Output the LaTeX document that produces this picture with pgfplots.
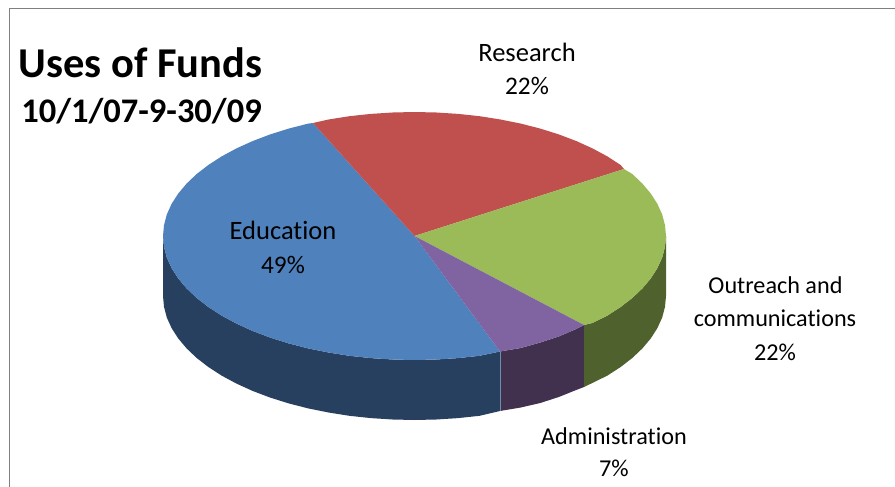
\documentclass[border=0pt]{standalone}
\usepackage{fontspec}
\setmainfont[Ligatures={NoCommon,TeX},RawFeature={-liga;-clig;-dlig}]{Carlito}
\usepackage{pgfplots}
\pgfplotsset{compat=1.18}
\definecolor{eduTop}{HTML}{4F81BD}
\definecolor{resTop}{HTML}{C0504D}
\definecolor{outTop}{HTML}{9BBB59}
\definecolor{admTop}{HTML}{8064A2}
\definecolor{eduSide}{HTML}{28405F}
\definecolor{outSide}{HTML}{4F612D}
\definecolor{admSide}{HTML}{41314F}
\begin{document}
\begin{tikzpicture}
\begin{axis}[
  scale only axis, width=895pt, height=487pt,
  xmin=0, xmax=895, ymin=0, ymax=487, y dir=reverse,
  hide axis, clip=true,
  every axis plot/.append style={line join=round},
]
% page background
\addplot[fill=white, draw=none] coordinates {(0,0) (895,0) (895,487) (0,487)} \closedcycle;
% chart frame, left and top edges
\addplot[color=black!50, line width=1pt] coordinates {(9.5,487) (9.5,9) (895,9)};

% rim of the disc, lower half
\addplot[fill=eduSide, draw=none] coordinates {
 (163,236) (164,246.8) (166.8,257.5) (171.6,268.1) (178.2,278.4) (186.6,288.4) (196.7,298) (208.5,307.1) (221.8,315.7) (236.7,323.7) (252.8,331) (270.2,337.6) (288.7,343.4) (308.2,348.4) (328.5,352.5) (349.4,355.8) (370.8,358.1) (392.6,359.5) (414.5,360) (436.4,359.5) (458.2,358.1) (479.6,355.8) (500,351.5)
 (500,411) (479.6,415.8) (458.2,418.1) (436.4,419.5) (414.5,420) (392.6,419.5) (370.8,418.1) (349.4,415.8) (328.5,412.5) (308.2,408.4) (288.7,403.4) (270.2,397.6) (252.8,391) (236.7,383.7) (221.8,375.7) (208.5,367.1) (196.7,358) (186.6,348.4) (178.2,338.4) (171.6,328.1) (166.8,317.5) (164,306.8) (163,296)
} -- cycle;
\addplot[fill=admSide, draw=none] coordinates {
 (500,351.5) (520.8,348) (540.3,342.5) (558.8,336.5) (576.2,329) (584,325)
 (584,387) (576.2,390) (558.8,397) (540.3,403) (520.8,407.5) (500,411)
} -- cycle;
\addplot[fill=outSide, draw=none] coordinates {
 (584,325) (592.3,323) (607.2,315.7) (620.5,307.1) (632.3,298) (642.4,288.4) (650.8,278.4) (657.4,268.1) (662.2,257.5) (665,246.8) (666,236)
 (666,296) (665,306.8) (662.2,317.5) (657.4,328.1) (650.8,338.4) (642.4,348.4) (632.3,358) (620.5,367.1) (607.2,375.7) (592.3,383) (584,387)
} -- cycle;
% seam between the two lower rim sections
\addplot[color=black!30!eduTop!70!white, line width=0.5pt] coordinates {(500,351.5) (500,411)};

% top face of the disc
\addplot[fill=eduTop, draw=none] coordinates {
 (414.5,236) (313,123) (308.2,123.6) (288.7,128.6) (270.2,134.4) (252.8,141) (236.7,148.3) (221.8,156.3) (208.5,164.9) (196.7,174) (186.6,183.6) (178.2,193.6) (171.6,203.9) (166.8,214.5) (164,225.2) (163,236) (164,246.8) (166.8,257.5) (171.6,268.1) (178.2,278.4) (186.6,288.4) (196.7,298) (208.5,307.1) (221.8,315.7) (236.7,323.7) (252.8,331) (270.2,337.6) (288.7,343.4) (308.2,348.4) (328.5,352.5) (349.4,355.8) (370.8,358.1) (392.6,359.5) (414.5,360) (436.4,359.5) (458.2,358.1) (479.6,355.8) (500,351.5)
} -- cycle;
\addplot[fill=resTop, draw=none] coordinates {
 (414.5,236) (624,169) (620.5,164.9) (607.2,156.3) (592.3,148.3) (576.2,141) (558.8,134.4) (540.3,128.6) (520.8,123.6) (500.5,119.5) (479.6,116.2) (458.2,113.9) (436.4,112.5) (414.5,112) (392.6,112.5) (370.8,113.9) (349.4,116.2) (328.5,119.5) (313,123)
} -- cycle;
\addplot[fill=outTop, draw=none] coordinates {
 (414.5,236) (624,169) (632.3,174) (642.4,183.6) (650.8,193.6) (657.4,203.9) (662.2,214.5) (665,225.2) (666,236) (665,246.8) (662.2,257.5) (657.4,268.1) (650.8,278.4) (642.4,288.4) (632.3,298) (620.5,307.1) (607.2,315.7) (592.3,323) (584,325)
} -- cycle;
\addplot[fill=admTop, draw=none] coordinates {
 (414.5,236) (584,325) (576.2,329) (558.8,336.5) (540.3,342.5) (520.8,348) (500,351.5)
} -- cycle;

% titles
\node[font=\fontsize{42.5}{42.5}\selectfont\bfseries, anchor=center] at (axis cs:140.5,63) {Uses of Funds};
\node[font=\fontsize{34.5}{34.5}\selectfont\bfseries, anchor=center] at (axis cs:141.5,111) {10/1/07-9-30/09};
% slice labels
\node[font=\fontsize{26.5}{26.5}\selectfont] at (axis cs:527,52) {Research};
\node[font=\fontsize{25.3}{25.3}\selectfont] at (axis cs:527,86) {22\%};
\node[font=\fontsize{26.5}{26.5}\selectfont] at (axis cs:283,230) {Education};
\node[font=\fontsize{25.3}{25.3}\selectfont] at (axis cs:283,265) {49\%};
\node[font=\fontsize{24.2}{24.2}\selectfont] at (axis cs:775.5,285) {Outreach and};
\node[font=\fontsize{24.2}{24.2}\selectfont] at (axis cs:775,318) {communications};
\node[font=\fontsize{24.2}{24.2}\selectfont] at (axis cs:775,352) {22\%};
\node[font=\fontsize{24.2}{24.2}\selectfont] at (axis cs:614,436) {Administration};
\node[font=\fontsize{24.2}{24.2}\selectfont] at (axis cs:614,468) {7\%};
\end{axis}
\end{tikzpicture}
\end{document}
